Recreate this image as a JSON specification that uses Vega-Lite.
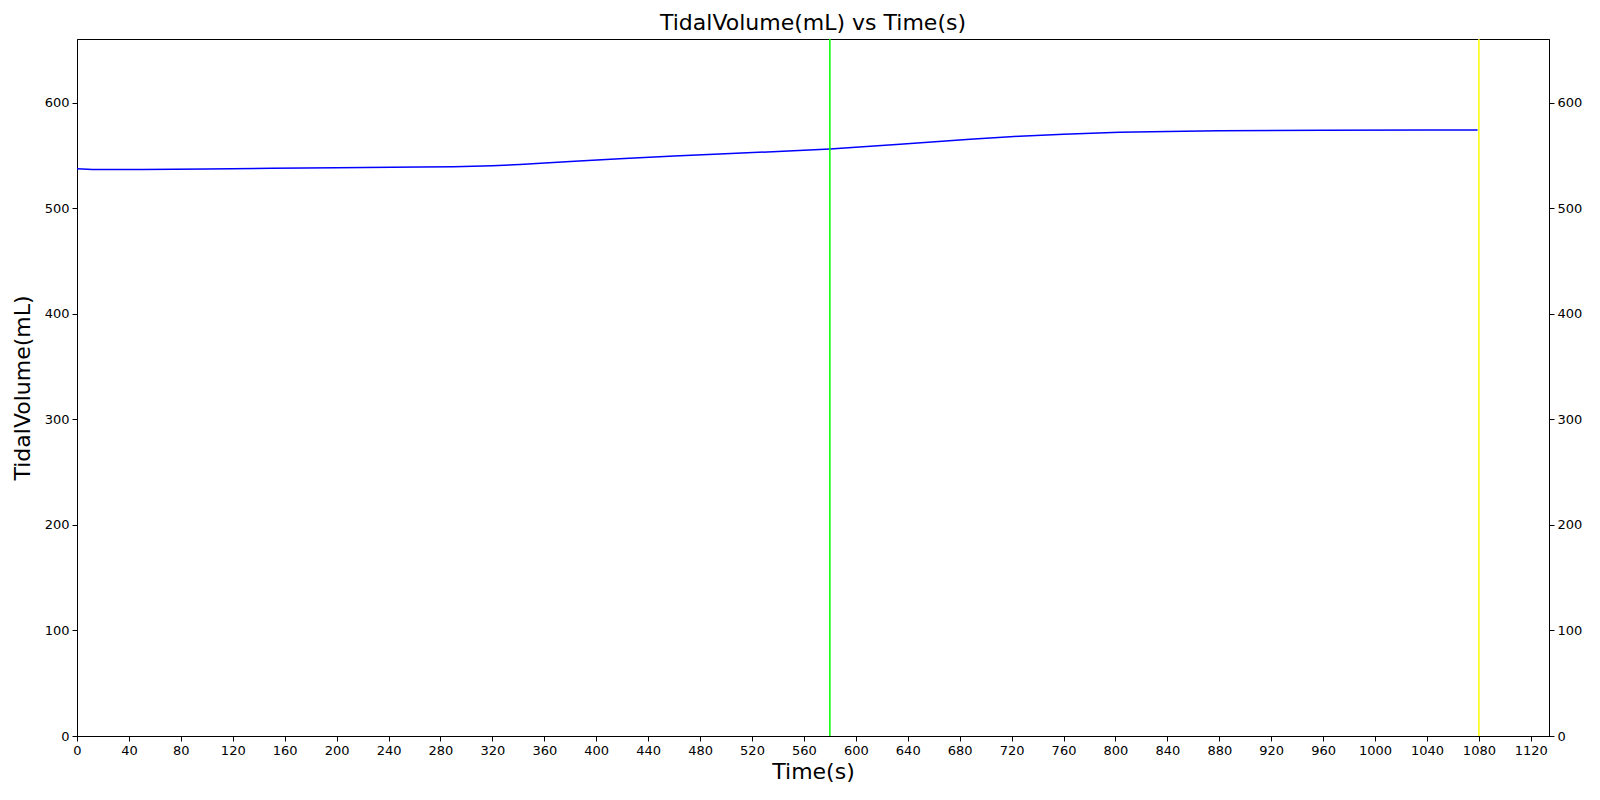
{
  "$schema": "https://vega.github.io/schema/vega-lite/v6.json",
  "autosize": "none",
  "width": 1472,
  "height": 697,
  "padding": {"left": 77, "top": 39, "right": 51, "bottom": 64},
  "background": "white",
  "config": {
    "font": "DejaVu Sans",
    "view": {"stroke": "black", "strokeWidth": 1},
    "axis": {
      "domainColor": "black", "tickColor": "black", "labelColor": "black", "titleColor": "black",
      "labelFont": "DejaVu Sans", "titleFont": "DejaVu Sans", "labelFontSize": 13,
      "titleFontSize": 22, "titleFontWeight": "normal", "tickSize": 5, "labelPadding": 3, "grid": false, "format": "d"
    }
  },
  "title": {"text": "TidalVolume(mL) vs Time(s)", "fontSize": 22, "fontWeight": "normal", "font": "DejaVu Sans", "color": "black", "offset": 3},
  "layer": [
    {
      "data": {"values": [
        {"t": 0, "v": 537.7}, {"t": 12, "v": 536.8}, {"t": 50, "v": 537.0}, {"t": 100, "v": 537.5},
        {"t": 150, "v": 538.0}, {"t": 200, "v": 538.5}, {"t": 264, "v": 539.2}, {"t": 290, "v": 539.6},
        {"t": 320, "v": 540.5}, {"t": 341, "v": 541.6}, {"t": 380, "v": 544.4}, {"t": 418, "v": 547.1},
        {"t": 460, "v": 549.6}, {"t": 495, "v": 551.6}, {"t": 540, "v": 554.0}, {"t": 580, "v": 556.3},
        {"t": 634, "v": 560.8}, {"t": 688, "v": 565.6}, {"t": 726, "v": 568.4}, {"t": 760, "v": 570.4},
        {"t": 803, "v": 572.2}, {"t": 840, "v": 573.0}, {"t": 880, "v": 573.6}, {"t": 960, "v": 574.0},
        {"t": 1040, "v": 574.3}, {"t": 1079, "v": 574.4}
      ]},
      "layer": [
        {
          "mark": {"type": "line", "color": "#0000ff", "strokeWidth": 1.5},
          "encoding": {
            "x": {"field": "t", "type": "quantitative", "scale": {"domain": [0, 1134], "nice": false, "zero": false},
              "axis": {"title": "Time(s)", "values": [0,40,80,120,160,200,240,280,320,360,400,440,480,520,560,600,640,680,720,760,800,840,880,920,960,1000,1040,1080,1120], "labelFlush": false, "labelOverlap": false, "titlePadding": 4}},
            "y": {"field": "v", "type": "quantitative", "scale": {"domain": [0, 660.6], "nice": false},
              "axis": {"title": "TidalVolume(mL)", "values": [0,100,200,300,400,500,600], "titlePadding": 10}}
          }
        },
        {
          "mark": {"type": "line", "opacity": 0},
          "encoding": {
            "x": {"field": "t", "type": "quantitative"},
            "y": {"field": "v", "type": "quantitative", "scale": {"domain": [0, 660.6], "nice": false},
              "axis": {"title": null, "orient": "right", "values": [0,100,200,300,400,500,600]}}
          }
        }
      ],
      "resolve": {"scale": {"y": "independent"}, "axis": {"y": "independent"}}
    },
    {
      "data": {"values": [{"t": 580}]},
      "mark": {"type": "rule", "color": "#00ff00", "strokeWidth": 1.5},
      "encoding": {"x": {"field": "t", "type": "quantitative"}}
    },
    {
      "data": {"values": [{"t": 1080}]},
      "mark": {"type": "rule", "color": "#ffff00", "strokeWidth": 1.5},
      "encoding": {"x": {"field": "t", "type": "quantitative"}}
    }
  ]
}
